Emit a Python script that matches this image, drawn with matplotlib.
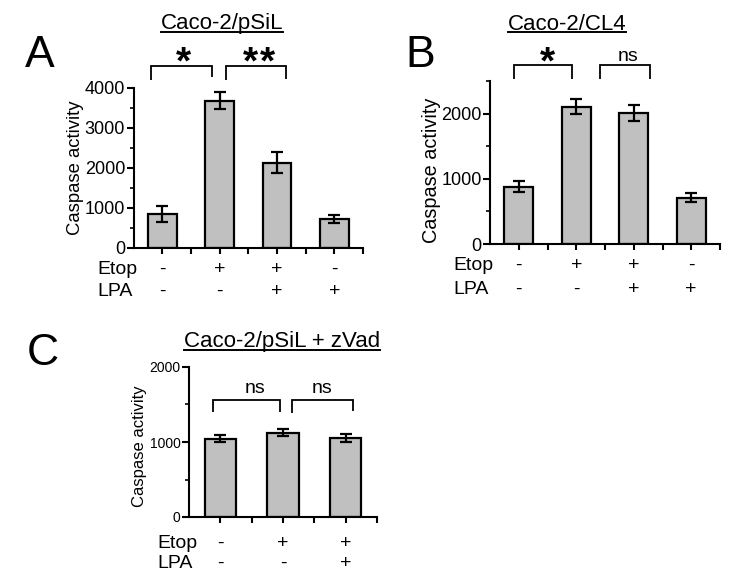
import matplotlib
matplotlib.use("Agg")
import matplotlib.pyplot as plt
import matplotlib.transforms as mt
import numpy as np
from matplotlib.lines import Line2D

plt.rcParams['font.family'] = ['Liberation Sans', 'DejaVu Sans']

# ---------------- data ----------------
a_vals = [860, 3680, 2130, 720]
a_err = [200, 210, 260, 100]
a_etop = ['-', '+', '+', '-']
a_lpa = ['-', '-', '+', '+']

b_vals = [880, 2105, 2005, 710]
b_err = [85, 113, 120, 72]
b_etop = ['-', '+', '+', '-']
b_lpa = ['-', '-', '+', '+']

c_vals = [1045, 1125, 1055]
c_err = [50, 48, 50]
c_etop = ['-', '+', '+']
c_lpa = ['-', '-', '+']

titles = ['Caco-2/pSiL', 'Caco-2/CL4', 'Caco-2/pSiL + zVad']
letters = ['A', 'B', 'C']
ylabel = 'Caspase activity'

W, H = 750, 574
fig = plt.figure(figsize=(7.5, 5.74), dpi=100)


def fx(p):
    return p / W


def fy(p):
    return 1 - p / H


def make_axes(l, r, t, b):
    return fig.add_axes([fx(l), fy(b), fx(r) - fx(l), fy(t) - fy(b)])


BAR_COLOR = '#c0c0c0'


def style_axes(ax, n, ymax, major, minor, tick_fs, ylab_fs):
    ax.set_xlim(-0.5, n - 0.5)
    ax.set_ylim(0, ymax)
    for s in ['top', 'right']:
        ax.spines[s].set_visible(False)
    for s in ['left', 'bottom']:
        ax.spines[s].set_linewidth(1.5)
    ax.set_yticks(np.arange(0, ymax + 1, major))
    ax.set_yticks(np.arange(minor, ymax + 1, 2 * minor), minor=True)
    ax.set_xticks(np.arange(0, n, 1.0))
    ax.set_xticks(np.arange(0.5, n - 0.4, 1.0), minor=True)
    ax.set_xticklabels([])
    ax.tick_params(axis='y', which='major', length=5, width=1.5, labelsize=tick_fs, pad=1)
    ax.tick_params(axis='y', which='minor', length=3, width=1.2)
    ax.tick_params(axis='x', which='both', length=4, width=1.5)
    ax.set_ylabel(ylabel, fontsize=ylab_fs, labelpad=2)


def draw_bars(ax, vals, err):
    x = np.arange(len(vals))
    ax.bar(x, vals, width=0.5, color=BAR_COLOR, edgecolor='black', linewidth=1.6, zorder=2)
    ax.errorbar(x, vals, yerr=err, fmt='none', ecolor='black', elinewidth=1.6,
                capsize=4, capthick=1.6, zorder=3)


def bracket(ax, x0, x1, ytop, yl, yr):
    ax.plot([x0, x0, x1, x1], [yl, ytop, ytop, yr], color='black', lw=1.3,
            clip_on=False, solid_capstyle='butt', solid_joinstyle='miter')


def rows(ax, etop, lpa, label_x, base1, base2, fs=14):
    tr = mt.blended_transform_factory(ax.transData, fig.transFigure)
    fig.text(fx(label_x), fy(base1), 'Etop', fontsize=fs, ha='left', va='baseline')
    fig.text(fx(label_x), fy(base2), 'LPA', fontsize=fs, ha='left', va='baseline')
    for i, (e, l) in enumerate(zip(etop, lpa)):
        ax.text(i, fy(base1), e, transform=tr, fontsize=fs, ha='center', va='baseline')
        ax.text(i, fy(base2), l, transform=tr, fontsize=fs, ha='center', va='baseline')


# ---------------- Panel A ----------------
axA = make_axes(133.5, 363, 88, 248)
draw_bars(axA, a_vals, a_err)
style_axes(axA, 4, 4000, 1000, 500, 13, 13.3)
axA.yaxis.set_label_coords(-0.215, 0.5)
bracket(axA, -0.19, 0.86, 4550, 4200, 4270)
bracket(axA, 1.12, 2.16, 4550, 4200, 4220)
rows(axA, a_etop, a_lpa, 97, 274, 296)

# ---------------- Panel B ----------------
axB = make_axes(490, 720, 81, 244)
draw_bars(axB, b_vals, b_err)
style_axes(axB, 4, 2500, 1000, 500, 13, 14.3)
axB.yaxis.set_label_coords(-0.215, 0.455)
bracket(axB, -0.09, 0.93, 2738, 2538, 2538)
bracket(axB, 1.42, 2.28, 2738, 2538, 2538)
rows(axB, b_etop, b_lpa, 453, 270, 294)

# ---------------- Panel C ----------------
axC = make_axes(189, 377, 367, 517)
draw_bars(axC, c_vals, c_err)
style_axes(axC, 3, 2000, 1000, 500, 10, 12)
axC.yaxis.set_label_coords(-0.225, 0.47)
bracket(axC, -0.11, 0.95, 1560, 1400, 1400)
bracket(axC, 1.15, 2.11, 1560, 1387, 1413)
rows(axC, c_etop, c_lpa, 157, 548, 568)

# ---------------- significance text ----------------
star_kw = dict(fontsize=28, fontweight='bold', ha='center', va='baseline')
fig.text(fx(183), fy(73), '*', **star_kw)
fig.text(fx(250), fy(73), '*', **star_kw)
fig.text(fx(267), fy(73), '*', **star_kw)
fig.text(fx(547), fy(73), '*', **star_kw)
fig.text(fx(628), fy(61), 'ns', fontsize=14, ha='center', va='baseline')
fig.text(fx(255), fy(393), 'ns', fontsize=14, ha='center', va='baseline')
fig.text(fx(322), fy(393), 'ns', fontsize=14, ha='center', va='baseline')

# ---------------- titles & letters ----------------
title_specs = [(222, 29, 32), (567, 30, 32), (282, 347, 350)]
title_objs = []
for t, (cx, base, ul) in zip(titles, title_specs):
    tobj = fig.text(fx(cx), fy(base), t, fontsize=16, ha='center', va='baseline')
    title_objs.append((tobj, ul))

fig.text(fx(25), fy(67), letters[0], fontsize=32, ha='left', va='baseline')
fig.text(fx(405), fy(67), letters[1], fontsize=32, ha='left', va='baseline')
fig.text(fx(27), fy(365), letters[2], fontsize=32, ha='left', va='baseline')

fig.canvas.draw()
renderer = fig.canvas.get_renderer()
for tobj, ul in title_objs:
    bb = tobj.get_window_extent(renderer)
    x0, x1 = bb.x0 / W, bb.x1 / W
    fig.add_artist(Line2D([x0, x1], [fy(ul), fy(ul)], transform=fig.transFigure,
                          color='black', lw=1.4))

fig.savefig('out.png', dpi=100)
